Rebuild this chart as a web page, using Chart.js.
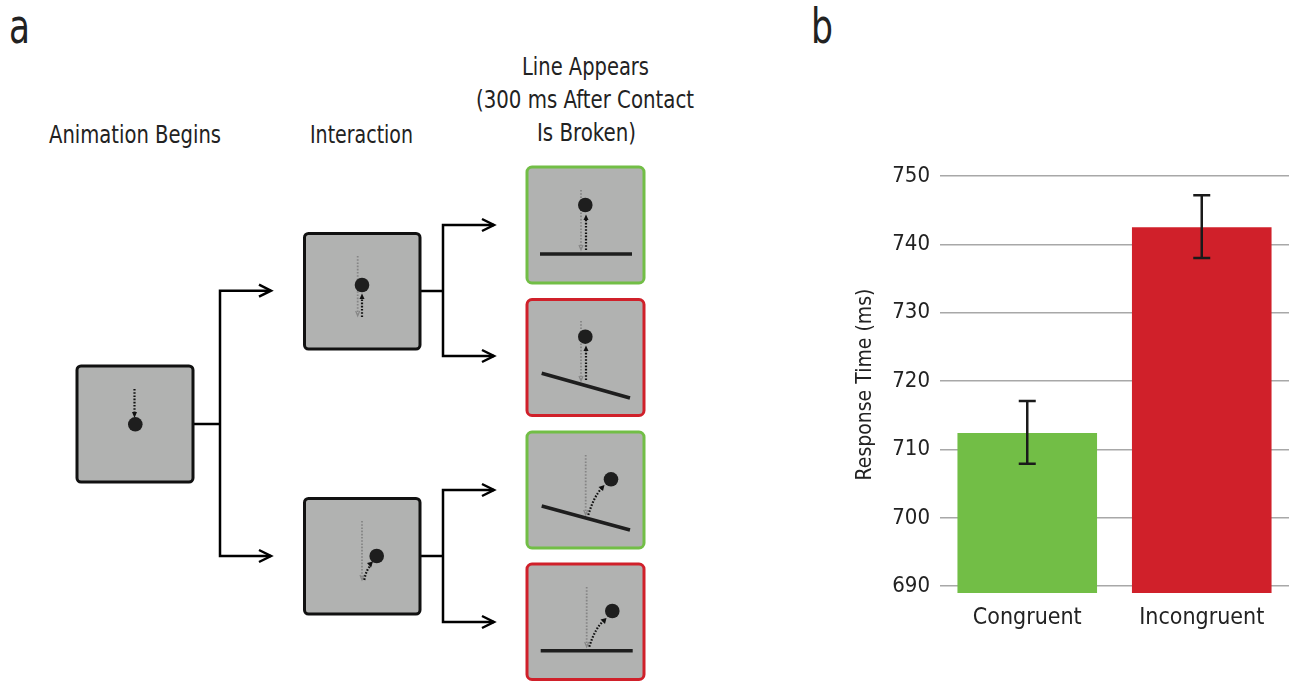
<!DOCTYPE html>
<html>
<head>
<meta charset="utf-8">
<script src="https://cdn.jsdelivr.net/npm/chart.js@4.4.1/dist/chart.umd.min.js"></script>
<style>
  html, body { margin: 0; padding: 0; background: #fff; }
  #page { position: relative; width: 1289px; height: 681px; overflow: hidden; }
  #diagram { position: absolute; left: 0; top: 0; }
  #diagram text { font-family: "Liberation Sans Narrow", "DejaVu Sans Condensed", "Roboto", sans-serif; fill: #222; }
  #chartBox { position: absolute; left: 840px; top: 0; width: 449px; height: 681px; }
</style>
</head>
<body>
<div id="page">
  <svg id="diagram" width="1289" height="681" xmlns="http://www.w3.org/2000/svg">
    <!-- panel labels -->
    <text x="9" y="42.5" font-size="48" textLength="21" lengthAdjust="spacingAndGlyphs">a</text>
    <text x="811" y="42.5" font-size="48" textLength="22" lengthAdjust="spacingAndGlyphs">b</text>

    <!-- column headers -->
    <text x="49" y="142.5" font-size="25" textLength="172" lengthAdjust="spacingAndGlyphs">Animation Begins</text>
    <text x="310" y="142.5" font-size="25" textLength="103" lengthAdjust="spacingAndGlyphs">Interaction</text>
    <text x="522" y="75" font-size="25" textLength="127" lengthAdjust="spacingAndGlyphs">Line Appears</text>
    <text x="476" y="108" font-size="25" textLength="218" lengthAdjust="spacingAndGlyphs">(300 ms After Contact</text>
    <text x="537" y="141" font-size="25" textLength="99" lengthAdjust="spacingAndGlyphs">Is Broken)</text>

    <!-- connectors -->
    <g fill="none" stroke="#000" stroke-width="2.5" stroke-linejoin="miter">
      <polyline points="193,424 220,424" />
      <polyline points="271,290.7 220,290.7 220,556 271,556" />
      <polyline points="259,284.7 271,290.7 259,296.7" />
      <polyline points="259,550 271,556 259,562" />

      <polyline points="420,291 443,291" />
      <polyline points="494,225 443,225 443,356 494,356" />
      <polyline points="482,219 494,225 482,231" />
      <polyline points="482,350 494,356 482,362" />

      <polyline points="420,556 443,556" />
      <polyline points="494,490 443,490 443,622 494,622" />
      <polyline points="482,484 494,490 482,496" />
      <polyline points="482,616 494,622 482,628" />
    </g>

    <!-- boxes -->
    <g fill="#b1b2b1" stroke-width="3">
      <rect x="77" y="366" width="116" height="116" rx="4" stroke="#111" />
      <rect x="304.5" y="233.5" width="115.5" height="115.5" rx="4" stroke="#111" />
      <rect x="304.5" y="498.5" width="115.5" height="115.5" rx="4" stroke="#111" />
      <rect x="527" y="167" width="117" height="116" rx="5" stroke="#72be46" />
      <rect x="527" y="299.5" width="117" height="116" rx="5" stroke="#d0202a" />
      <rect x="527" y="432" width="117" height="116" rx="5" stroke="#72be46" />
      <rect x="527" y="564" width="117" height="115.5" rx="5" stroke="#d0202a" />
    </g>

    <!-- grey dotted paths (original trajectory) -->
    <g fill="none" stroke="#858585" stroke-width="1.8" stroke-dasharray="1.6 1.6">
      <line x1="357.7" y1="256" x2="357.7" y2="314" />
      <line x1="362" y1="521" x2="362" y2="578" />
      <line x1="581" y1="190" x2="581" y2="248" />
      <line x1="581" y1="321" x2="581" y2="379" />
      <line x1="585.7" y1="455" x2="585.7" y2="513" />
      <line x1="586.7" y1="587" x2="586.7" y2="645" />
    </g>
    <g fill="none" stroke="#858585" stroke-width="1.2">
      <polyline points="355.7,311 357.7,316 359.7,311" />
      <polyline points="360,575 362,580 364,575" />
      <polyline points="579,245 581,250 583,245" />
      <polyline points="579,376 581,381 583,376" />
      <polyline points="583.7,510 585.7,515 587.7,510" />
      <polyline points="584.7,642 586.7,647 588.7,642" />
    </g>

    <!-- black dotted paths (ball motion) -->
    <g fill="none" stroke="#111" stroke-width="2.2" stroke-dasharray="1.6 1.6">
      <line x1="134.5" y1="389" x2="134.5" y2="414" />
      <line x1="362" y1="317" x2="362" y2="298" />
      <path d="M364.3,580 Q366,570 371,565" />
      <line x1="586" y1="250" x2="586" y2="218" />
      <line x1="586" y1="380" x2="586" y2="349" />
      <path d="M588.3,515 Q594,496 602,488" />
      <path d="M589.3,646.7 Q595,628 604,620.5" />
    </g>
    <g fill="#111" stroke="none">
      <polygon points="132,412 137,412 134.5,418" />
      <polygon points="359.5,299 364.5,299 362,293.5" />
      <polygon points="367,563 373,561.5 371,567.5" />
      <polygon points="583.5,220 588.5,220 586,214.5" />
      <polygon points="583.5,351 588.5,351 586,345.5" />
      <polygon points="598.5,487 604.5,485 603,491" />
      <polygon points="600.5,619.5 606.5,618 605,624" />
    </g>

    <!-- balls -->
    <g fill="#1e1e1e">
      <circle cx="135.3" cy="424.3" r="7.3" />
      <circle cx="362" cy="285" r="7.3" />
      <circle cx="376.7" cy="556" r="7.3" />
      <circle cx="585.3" cy="205" r="7.3" />
      <circle cx="585.3" cy="336.7" r="7.3" />
      <circle cx="611" cy="479.3" r="7.3" />
      <circle cx="612.3" cy="611" r="7.3" />
    </g>

    <!-- surfaces -->
    <g stroke="#1e1e1e" stroke-width="3.6" stroke-linecap="butt">
      <line x1="540" y1="254" x2="632" y2="254" />
      <line x1="541.7" y1="373.3" x2="630" y2="398" />
      <line x1="541.7" y1="506" x2="630" y2="530" />
      <line x1="540.7" y1="650.7" x2="632.7" y2="650.7" />
    </g>
  </svg>

  <div id="chartBox"><canvas id="rtChart"></canvas></div>
</div>

<script>
// Response time data (panel b)
const categories = ['Congruent', 'Incongruent'];
const meanRT = [712.4, 742.5];
const errLow = [707.9, 738.0];
const errHigh = [717.1, 747.2];
const yTicks = [690, 700, 710, 720, 730, 740, 750];
const barColors = ['#72be46', '#d0202a'];

const narrowFont = '"Liberation Sans Narrow", "DejaVu Sans Condensed", "Roboto", sans-serif';

// draws the error bars on top of the bars
const errorBars = {
  id: 'errorBars',
  afterDatasetsDraw(chart) {
    const ctx = chart.ctx;
    const x = chart.scales.x;
    const y = chart.scales.y;
    ctx.save();
    ctx.strokeStyle = '#1a1a1a';
    ctx.lineWidth = 2.5;
    categories.forEach((c, i) => {
      const px = x.getPixelForValue(i);
      const top = y.getPixelForValue(errHigh[i]);
      const bot = y.getPixelForValue(errLow[i]);
      ctx.beginPath();
      ctx.moveTo(px, top);
      ctx.lineTo(px, bot);
      ctx.moveTo(px - 8.5, top);
      ctx.lineTo(px + 8.5, top);
      ctx.moveTo(px - 8.5, bot);
      ctx.lineTo(px + 8.5, bot);
      ctx.stroke();
    });
    ctx.restore();
  }
};

const ctx = document.getElementById('rtChart').getContext('2d');
new Chart(ctx, {
  type: 'bar',
  data: {
    labels: categories,
    datasets: [{
      data: meanRT,
      backgroundColor: barColors,
      borderWidth: 0,
      barPercentage: 0.8,
      categoryPercentage: 1.0,
    }]
  },
  options: {
    responsive: true,
    maintainAspectRatio: false,
    animation: false,
    layout: { padding: { top: 176, right: 0, bottom: 0, left: 0 } },
    plugins: {
      legend: { display: false },
      tooltip: { enabled: false },
    },
    scales: {
      x: {
        grid: { display: false },
        border: { display: false },
        ticks: {
          color: '#222',
          padding: 3,
          font: { family: narrowFont, size: 23 },
        },
        afterFit: (scale) => { scale.height = 88; },
      },
      y: {
        min: 689,
        max: 750,
        afterBuildTicks: (scale) => { scale.ticks = yTicks.map(v => ({ value: v })); },
        grid: { color: '#a8a8a8', lineWidth: 1.5, drawTicks: false },
        border: { display: false },
        ticks: {
          color: '#222',
          padding: 10,
          font: { family: narrowFont, size: 22 },
        },
        title: {
          display: true,
          text: 'Response Time (ms)',
          color: '#222',
          padding: { top: 13, bottom: 0 },
          font: { family: narrowFont, size: 21 },
        },
        afterFit: (scale) => { scale.width = 100; },
      }
    }
  },
  plugins: [errorBars]
});
</script>
</body>
</html>
